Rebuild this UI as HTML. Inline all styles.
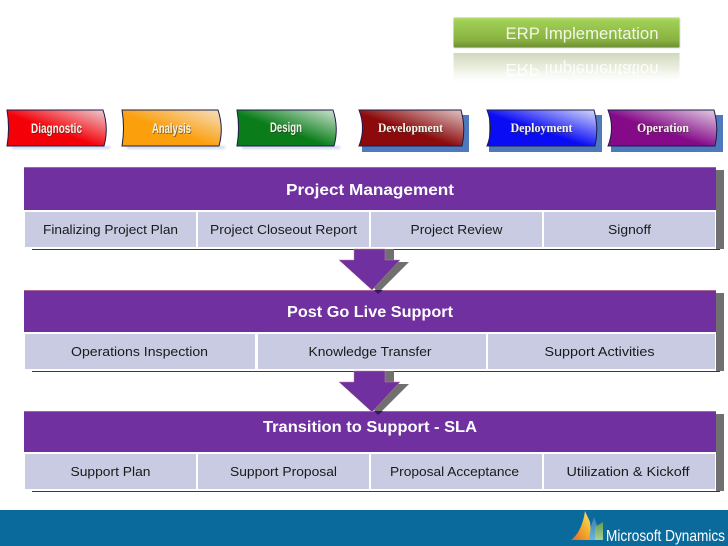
<!DOCTYPE html>
<html><head><meta charset="utf-8"><style>html,body{margin:0;padding:0;background:#fff}svg{display:block}text{font-family:"Liberation Sans",sans-serif}</style></head><body>
<svg width="728" height="546" viewBox="0 0 728 546" xmlns="http://www.w3.org/2000/svg">
<defs>
<linearGradient id="gb" x1="0" y1="0" x2="0" y2="1"><stop offset="0" stop-color="#b8dc70"/><stop offset=".12" stop-color="#a0cf55"/><stop offset=".75" stop-color="#88b240"/><stop offset="1" stop-color="#6f8f35"/></linearGradient>
<linearGradient id="rf" x1="0" y1="0" x2="0" y2="1"><stop offset="0" stop-color="#c3cdab" stop-opacity=".8"/><stop offset=".5" stop-color="#dbe3c9" stop-opacity=".55"/><stop offset="1" stop-color="#fff" stop-opacity="0"/></linearGradient>
<linearGradient id="c1" x1="0" y1="1" x2="1" y2="0"><stop offset=".45" stop-color="#f40008"/><stop offset="1" stop-color="#ecd0d4"/></linearGradient>
<linearGradient id="c2" x1="0" y1="1" x2="1" y2="0"><stop offset=".45" stop-color="#fb9f0d"/><stop offset="1" stop-color="#f5e0c4"/></linearGradient>
<linearGradient id="c3" x1="0" y1="1" x2="1" y2="0"><stop offset=".45" stop-color="#0a7d1a"/><stop offset="1" stop-color="#cfe3d2"/></linearGradient>
<linearGradient id="c4" x1="0" y1="1" x2="1" y2="0"><stop offset=".45" stop-color="#8c0a0c"/><stop offset="1" stop-color="#e0c8c8"/></linearGradient>
<linearGradient id="c5" x1="0" y1="1" x2="1" y2="0"><stop offset=".45" stop-color="#0a0cf4"/><stop offset="1" stop-color="#d8dcfa"/></linearGradient>
<linearGradient id="c6" x1="0" y1="1" x2="1" y2="0"><stop offset=".45" stop-color="#850a88"/><stop offset="1" stop-color="#e2cfe4"/></linearGradient>
<linearGradient id="l1" x1="0" y1="1" x2="1" y2="0"><stop offset="0" stop-color="#e8622a"/><stop offset=".55" stop-color="#f3b32e"/><stop offset="1" stop-color="#f6e58e"/></linearGradient>
<linearGradient id="l2" x1="0" y1="1" x2="0" y2="0"><stop offset="0" stop-color="#6fb4d8"/><stop offset="1" stop-color="#3a7fb0"/></linearGradient>
<linearGradient id="l3" x1="0" y1="1" x2="0" y2="0"><stop offset="0" stop-color="#a8cf90"/><stop offset="1" stop-color="#5e9e58"/></linearGradient>
<filter id="b1" x="-10%" y="-30%" width="120%" height="160%"><feGaussianBlur stdDeviation=".8"/></filter>
<filter id="b2" x="-10%" y="-100%" width="120%" height="300%"><feGaussianBlur stdDeviation="1"/></filter>
</defs>

<!-- ERP title -->
<rect x="454" y="18" width="226" height="30" fill="#8a9a6a" opacity=".5" filter="url(#b1)"/>
<rect x="453.500" y="17.500" width="226" height="30" rx="1" fill="url(#gb)"/>
<text x="582" y="39" font-size="17" fill="#f2f7e6" text-anchor="middle" textLength="153" lengthAdjust="spacingAndGlyphs">ERP Implementation</text>
<rect x="453.500" y="53" width="226" height="32" fill="url(#rf)"/>
<text transform="translate(582,64) scale(1,-1)" x="0" y="0" font-size="17" fill="#fff" fill-opacity=".9" text-anchor="middle" textLength="153" lengthAdjust="spacingAndGlyphs">ERP Implementation</text>

<!-- Top row chevrons -->
<g fill="#a9bddc" opacity=".55" filter="url(#b2)"><rect x="12" y="146" width="98" height="3"/><rect x="127" y="146" width="98" height="3"/><rect x="242" y="146" width="98" height="3"/></g>
<g stroke="#1b1b4a" stroke-width="1">
<path d="M7 110H103Q109 128 104 146H7Q10 128 7 110Z" fill="url(#c1)"/>
<path d="M122 110H218Q224 128 219 146H122Q125 128 122 110Z" fill="url(#c2)"/>
<path d="M237 110H333Q339 128 334 146H237Q240 128 237 110Z" fill="url(#c3)"/>
</g>
<g fill="#4f79bd">
<rect x="362" y="115" width="107" height="37"/><rect x="489" y="115" width="113" height="37"/><rect x="611" y="115" width="112" height="37"/>
</g>
<g stroke="#1b1b4a" stroke-width="1">
<path d="M359 110H461Q466 128 462 146H359Q366 128 359 110Z" fill="url(#c4)"/>
<path d="M487 110H594Q599 128 595 146H487Q494 128 487 110Z" fill="url(#c5)"/>
<path d="M608 110H714Q719 128 715 146H608Q615 128 608 110Z" fill="url(#c6)"/>
</g>
<g font-weight="bold" fill="#f4f4e8" text-anchor="middle" font-size="14">
<g fill="#333" opacity=".6" transform="translate(.8,.8)">
<text x="56.500" y="133" textLength="51" lengthAdjust="spacingAndGlyphs">Diagnostic</text>
<text x="171.500" y="133" textLength="39" lengthAdjust="spacingAndGlyphs">Analysis</text>
<text x="286" y="132" textLength="32" lengthAdjust="spacingAndGlyphs">Design</text>
</g>
<text x="56.500" y="133" textLength="51" lengthAdjust="spacingAndGlyphs">Diagnostic</text>
<text x="171.500" y="133" textLength="39" lengthAdjust="spacingAndGlyphs">Analysis</text>
<text x="286" y="132" textLength="32" lengthAdjust="spacingAndGlyphs">Design</text>
</g>
<g font-weight="bold" fill="#f4f4e8" text-anchor="middle" font-size="13">
<g fill="#333" opacity=".6" transform="translate(.8,.8)">
<text x="410.500" y="132" textLength="65" lengthAdjust="spacingAndGlyphs" style="font-family:'Liberation Serif',serif">Development</text>
<text x="541.500" y="132" textLength="62" lengthAdjust="spacingAndGlyphs" style="font-family:'Liberation Serif',serif">Deployment</text>
<text x="663" y="132" textLength="52" lengthAdjust="spacingAndGlyphs" style="font-family:'Liberation Serif',serif">Operation</text>
</g>
<text x="410.500" y="132" textLength="65" lengthAdjust="spacingAndGlyphs" style="font-family:'Liberation Serif',serif">Development</text>
<text x="541.500" y="132" textLength="62" lengthAdjust="spacingAndGlyphs" style="font-family:'Liberation Serif',serif">Deployment</text>
<text x="663" y="132" textLength="52" lengthAdjust="spacingAndGlyphs" style="font-family:'Liberation Serif',serif">Operation</text>
</g>

<!-- Section shadows -->
<g fill="#707070">
<rect x="716" y="170" width="8" height="79"/>
<rect x="716" y="293" width="8" height="78"/>
<rect x="716" y="414" width="8" height="77"/>
</g>
<g fill="#3a3a3a">
<rect x="32" y="249" width="688" height="1"/>
<rect x="32" y="371" width="688" height="1"/>
<rect x="32" y="491" width="688" height="1"/>
</g>

<!-- Arrows -->
<g fill="#707070">
<path d="M364 249H394V262H409L378 293L354 262Z"/>
<path d="M364 371H394V384H409L378 415L354 384Z"/>
</g>
<g fill="#7030a0" stroke="#c08090" stroke-width=".5">
<path d="M354 249H385V260H400L372 290L339 260H354Z"/>
<path d="M354 371H385V382H400L372 412L339 382H354Z"/>
</g>

<!-- Section 1 -->
<rect x="24" y="167" width="692" height="43" fill="#7030a0"/>
<rect x="24" y="167" width="692" height="1" fill="#a9668f"/>
<g fill="#c9cbe3">
<rect x="25" y="212" width="171" height="35"/><rect x="198" y="212" width="171" height="35"/><rect x="371" y="212" width="171" height="35"/><rect x="544" y="212" width="171" height="35"/>
</g>
<!-- Section 2 -->
<rect x="24" y="290" width="692" height="42" fill="#7030a0"/>
<rect x="24" y="290" width="692" height="1" fill="#a9668f"/>
<path d="M374 290H383L378 294Z" fill="#3a1560"/>
<g fill="#c9cbe3">
<rect x="25" y="334" width="230" height="35"/><rect x="258" y="334" width="228" height="35"/><rect x="488" y="334" width="227" height="35"/>
</g>
<!-- Section 3 -->
<rect x="24" y="411" width="692" height="41" fill="#7030a0"/>
<rect x="24" y="411" width="692" height="1" fill="#a9668f"/>
<path d="M374 411H383L378 415Z" fill="#3a1560"/>
<g fill="#c9cbe3">
<rect x="25" y="454" width="171" height="35"/><rect x="198" y="454" width="171" height="35"/><rect x="371" y="454" width="171" height="35"/><rect x="544" y="454" width="171" height="35"/>
</g>

<g fill="#fff" font-weight="bold" font-size="16" text-anchor="middle">
<text x="370" y="195" textLength="168" lengthAdjust="spacingAndGlyphs">Project Management</text>
<text x="370" y="317" textLength="166" lengthAdjust="spacingAndGlyphs">Post Go Live Support</text>
<text x="370" y="432" textLength="214" lengthAdjust="spacingAndGlyphs">Transition to Support - SLA</text>
</g>
<g fill="#1a1a1a" font-size="13" text-anchor="middle">
<text x="110.500" y="234" textLength="135" lengthAdjust="spacingAndGlyphs">Finalizing Project Plan</text>
<text x="283.500" y="234" textLength="147" lengthAdjust="spacingAndGlyphs">Project Closeout Report</text>
<text x="456.500" y="234" textLength="92" lengthAdjust="spacingAndGlyphs">Project Review</text>
<text x="629.500" y="234" textLength="43" lengthAdjust="spacingAndGlyphs">Signoff</text>
<text x="139.500" y="356" textLength="137" lengthAdjust="spacingAndGlyphs">Operations Inspection</text>
<text x="370" y="356" textLength="123" lengthAdjust="spacingAndGlyphs">Knowledge Transfer</text>
<text x="599.500" y="356" textLength="110" lengthAdjust="spacingAndGlyphs">Support Activities</text>
<text x="110.500" y="476" textLength="80" lengthAdjust="spacingAndGlyphs">Support Plan</text>
<text x="283.500" y="476" textLength="107" lengthAdjust="spacingAndGlyphs">Support Proposal</text>
<text x="454.500" y="476" textLength="129" lengthAdjust="spacingAndGlyphs">Proposal Acceptance</text>
<text x="628" y="476" textLength="123" lengthAdjust="spacingAndGlyphs">Utilization &amp; Kickoff</text>
</g>

<!-- Footer -->
<rect x="0" y="510" width="728" height="36" fill="#0b6a9c"/>
<path d="M571 540C578 535 583 525 585 511L590 522L592 540Z" fill="url(#l1)"/>
<path d="M589 540L591 526L594 517L597 525V540Z" fill="url(#l2)"/>
<path d="M595 540V527L603 522V540Z" fill="url(#l3)"/>
<text x="606" y="541" font-size="16" fill="#fff" textLength="119" lengthAdjust="spacingAndGlyphs">Microsoft Dynamics</text>
</svg>
</body></html>
